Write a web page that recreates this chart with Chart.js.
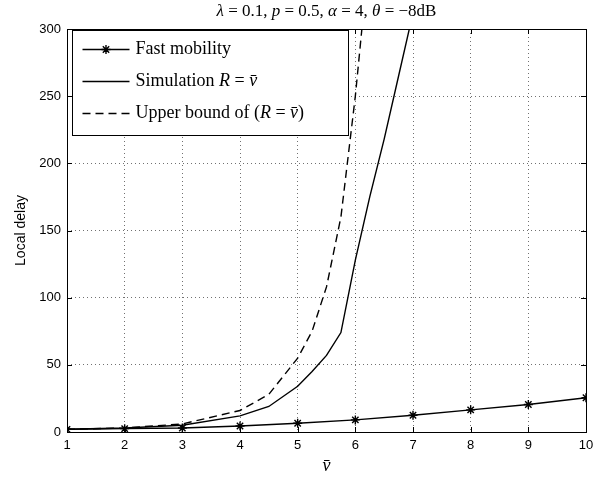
<!DOCTYPE html>
<html>
<head>
<meta charset="utf-8">
<script src="https://cdn.jsdelivr.net/npm/chart.js@4.4.1/dist/chart.umd.min.js"></script>
<style>
  html, body { margin: 0; padding: 0; background: #fff; }
</style>
</head>
<body>
<canvas id="delayChart" width="610" height="483"></canvas>
<script>
// values
const vbar = [1, 2, 3, 4, 5, 6, 7, 8, 9, 10];
const fastMobility = [2, 2.5, 3, 4.5, 6.5, 9, 12.5, 16.5, 20.5, 25.5];

const simX = [1, 2, 3, 4, 4.5, 5, 5.25, 5.5, 5.75, 6, 6.25, 6.5, 6.75, 7];
const simDelay = [2, 3, 5, 12, 19, 34, 45, 57, 74, 128, 175, 218, 265, 312];

const boundX = [1, 2, 3, 4, 4.5, 5, 5.25, 5.5, 5.75, 6, 6.25];
const boundDelay = [2, 3, 6, 16, 28, 55, 75, 108, 160, 250, 360];

const yMin = 0, yMax = 300, yStep = 50;

// text pieces: [text, italic]
const titleParts = [['\u03bb', 1], [' = 0.1, ', 0], ['p', 1], [' = 0.5, ', 0], ['\u03b1', 1], [' = 4, ', 0], ['\u03b8', 1], [' = \u22128dB', 0]];
const legendParts = [
  [['Fast mobility', 0]],
  [['Simulation ', 0], ['R', 1], [' = ', 0], ['v\u0304', 1]],
  [['Upper bound of (', 0], ['R', 1], [' = ', 0], ['v\u0304', 1], [')', 0]]
];

const SERIF = '"Liberation Serif", "DejaVu Serif", serif';
const SANS = '"Liberation Sans", Arial, sans-serif';

function richWidth(ctx, parts, size) {
  let w = 0;
  parts.forEach(p => {
    ctx.font = (p[1] ? 'italic ' : '') + size + 'px ' + SERIF;
    w += ctx.measureText(p[0]).width;
  });
  return w;
}

function drawRich(ctx, parts, x, y, size, center) {
  let cx = center ? x - richWidth(ctx, parts, size) / 2 : x;
  parts.forEach(p => {
    ctx.font = (p[1] ? 'italic ' : '') + size + 'px ' + SERIF;
    ctx.fillText(p[0], cx, y);
    cx += ctx.measureText(p[0]).width;
  });
}

function drawStar(ctx, x, y, r) {
  ctx.beginPath();
  for (let a = 0; a < 4; a++) {
    const t = a * Math.PI / 4;
    ctx.moveTo(x - r * Math.cos(t), y - r * Math.sin(t));
    ctx.lineTo(x + r * Math.cos(t), y + r * Math.sin(t));
  }
  ctx.stroke();
}

const framePlugin = {
  id: 'frame',
  afterDraw(chart) {
    const ctx = chart.ctx;
    const a = chart.chartArea;
    const xs = chart.scales.x, ys = chart.scales.y;
    ctx.save();
    ctx.strokeStyle = '#000';
    ctx.lineWidth = 1;
    ctx.strokeRect(Math.round(a.left) + 0.5, Math.round(a.top) + 0.5,
      Math.round(a.right - a.left), Math.round(a.bottom - a.top));
    // inward ticks on all four sides
    ctx.beginPath();
    xs.ticks.forEach(t => {
      const px = Math.round(xs.getPixelForValue(t.value)) + 0.5;
      ctx.moveTo(px, a.bottom); ctx.lineTo(px, a.bottom - 5);
      ctx.moveTo(px, a.top); ctx.lineTo(px, a.top + 5);
    });
    ys.ticks.forEach(t => {
      const py = Math.round(ys.getPixelForValue(t.value)) + 0.5;
      ctx.moveTo(a.left, py); ctx.lineTo(a.left + 5, py);
      ctx.moveTo(a.right, py); ctx.lineTo(a.right - 5, py);
    });
    ctx.stroke();

    // title
    ctx.fillStyle = '#000';
    ctx.textBaseline = 'middle';
    drawRich(ctx, titleParts, (a.left + a.right) / 2, 12, 17, true);

    // legend box
    const bx = a.left + 5.5, by = a.top + 1.5, bw = 276, bh = 105;
    ctx.fillStyle = '#fff';
    ctx.fillRect(bx, by, bw, bh);
    ctx.strokeRect(bx, by, bw, bh);
    ctx.fillStyle = '#000';
    chart.data.datasets.forEach((ds, i) => {
      const ly = by + 19 + i * 32;
      ctx.strokeStyle = ds.borderColor;
      ctx.lineWidth = ds.borderWidth;
      ctx.setLineDash(ds.borderDash || []);
      ctx.beginPath();
      ctx.moveTo(bx + 10, ly); ctx.lineTo(bx + 57, ly);
      ctx.stroke();
      ctx.setLineDash([]);
      if (ds.pointRadius > 0) drawStar(ctx, bx + 33.5, ly, 4.5);
      drawRich(ctx, legendParts[i], bx + 63, ly, 18, false);
    });
    ctx.restore();
  }
};

new Chart(document.getElementById('delayChart'), {
  type: 'line',
  data: {
    datasets: [
      {
        label: 'Fast mobility',
        data: vbar.map((v, i) => ({ x: v, y: fastMobility[i] })),
        borderColor: '#000',
        borderWidth: 1.4,
        pointStyle: 'star',
        pointRadius: 4.5,
        pointBorderColor: '#000',
        pointBorderWidth: 1.4,
        fill: false
      },
      {
        label: 'Simulation R = v',
        data: simX.map((v, i) => ({ x: v, y: simDelay[i] })),
        borderColor: '#000',
        borderWidth: 1.4,
        pointRadius: 0,
        fill: false
      },
      {
        label: 'Upper bound of (R = v)',
        data: boundX.map((v, i) => ({ x: v, y: boundDelay[i] })),
        borderColor: '#000',
        borderWidth: 1.4,
        borderDash: [8, 5],
        pointRadius: 0,
        fill: false
      }
    ]
  },
  options: {
    responsive: false,
    animation: false,
    layout: { padding: { top: 29, right: 24, left: 0, bottom: 0 } },
    plugins: {
      legend: { display: false },
      title: { display: false },
      tooltip: { enabled: false }
    },
    scales: {
      x: {
        type: 'linear',
        min: vbar[0],
        max: vbar[vbar.length - 1],
        ticks: { stepSize: 1, color: '#000', padding: 6, font: { family: SANS, size: 13 } },
        grid: { color: 'rgba(0,0,0,0.7)', lineWidth: 0.8, drawTicks: false },
        border: { display: false, dash: [1, 3] },
        title: { display: true, text: 'v\u0304', color: '#000', padding: { top: 0, bottom: 6 },
                 font: { family: SERIF, style: 'italic', size: 18 } },
        afterFit(scale) { scale.height = 51; }
      },
      y: {
        min: yMin,
        max: yMax,
        ticks: { stepSize: yStep, color: '#000', padding: 6, font: { family: SANS, size: 13 } },
        grid: { color: 'rgba(0,0,0,0.7)', lineWidth: 0.8, drawTicks: false },
        border: { display: false, dash: [1, 3] },
        title: { display: true, text: 'Local delay', color: '#000', padding: { top: 13, bottom: 0 },
                 font: { family: SANS, size: 14 } },
        afterFit(scale) { scale.width = 67; }
      }
    }
  },
  plugins: [framePlugin]
});
</script>
</body>
</html>
